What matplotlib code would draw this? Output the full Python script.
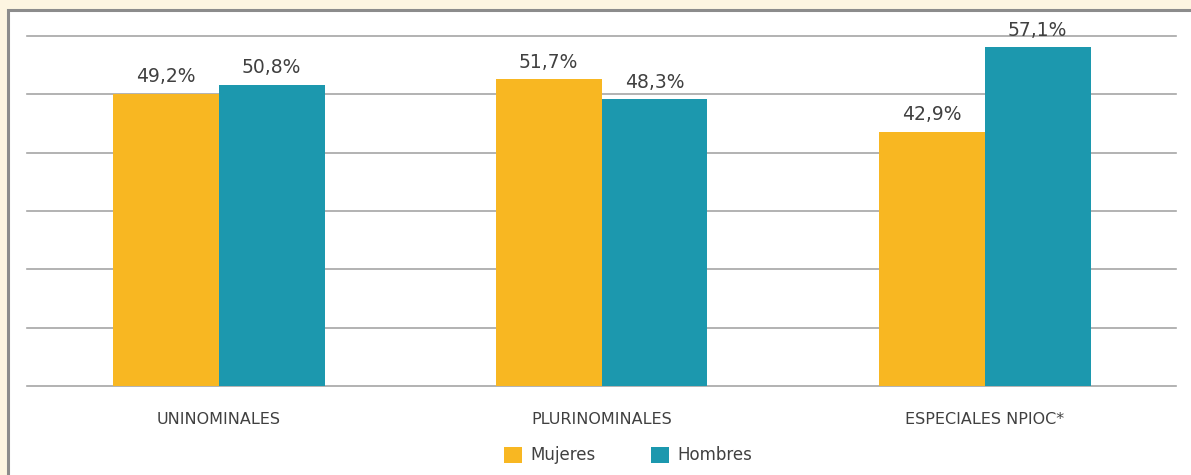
import numpy as np
import matplotlib.pyplot as plt
from matplotlib.patches import Rectangle

# --- Datos ---
categorias = ['UNINOMINALES', 'PLURINOMINALES', 'ESPECIALES NPIOC*']
mujeres = [49.2, 51.7, 42.9]
hombres = [50.8, 48.3, 57.1]
series = ['Mujeres', 'Hombres']

col_muj = '#F8B722'
col_hom = '#1C98AE'
col_txt = '#404040'

fig = plt.figure(figsize=(11.91, 4.75), dpi=100)
fig.patch.set_facecolor('#FDF5E1')

# recuadro blanco con borde gris
fig.patches.append(Rectangle((7.5 / 1191, -0.2), 1.2, 1.2 - 9.5 / 475,
                             transform=fig.transFigure, facecolor='white',
                             edgecolor='#8C8C8C', linewidth=2.2, zorder=-10))

ax = fig.add_axes([27 / 1191, 1 - 386 / 475, (1176 - 27) / 1191, (386 - 36) / 475])
ax.set_facecolor('none')

x = np.arange(len(categorias))
w = 106 / 383

b1 = ax.bar(x - w / 2, mujeres, w, color=col_muj, label=series[0], zorder=3)
b2 = ax.bar(x + w / 2, hombres, w, color=col_hom, label=series[1], zorder=3)

for bars, vals in [(b1, mujeres), (b2, hombres)]:
    for b, v in zip(bars, vals):
        ax.text(b.get_x() + b.get_width() / 2, v + 1.3,
                f'{v:.1f}'.replace('.', ',') + '%',
                ha='center', va='bottom', fontsize=13.5, color=col_txt, zorder=4)

ymax = 59
ax.set_xlim(-0.5, 2.5)
ax.set_ylim(0, ymax)
ax.set_yticks(np.linspace(0, ymax, 7))
ax.yaxis.grid(True, color='#A6A6A6', linewidth=1.2, zorder=1)
for gl in ax.get_ygridlines():
    gl.set_clip_on(False)
ax.tick_params(axis='y', left=False, labelleft=False)
ax.tick_params(axis='x', bottom=False, pad=15)
ax.set_xticks(x)
ax.set_xticklabels(categorias, fontsize=11.5, color=col_txt)
for s in ax.spines.values():
    s.set_visible(False)

leg = ax.legend(loc='upper center', bbox_to_anchor=(0.523, -0.13), ncol=2,
                frameon=False, fontsize=12, handlelength=1.1, handleheight=1.1,
                handletextpad=0.5, columnspacing=3.3)
for t in leg.get_texts():
    t.set_color(col_txt)

fig.savefig('out.png', dpi=100, facecolor=fig.get_facecolor())
